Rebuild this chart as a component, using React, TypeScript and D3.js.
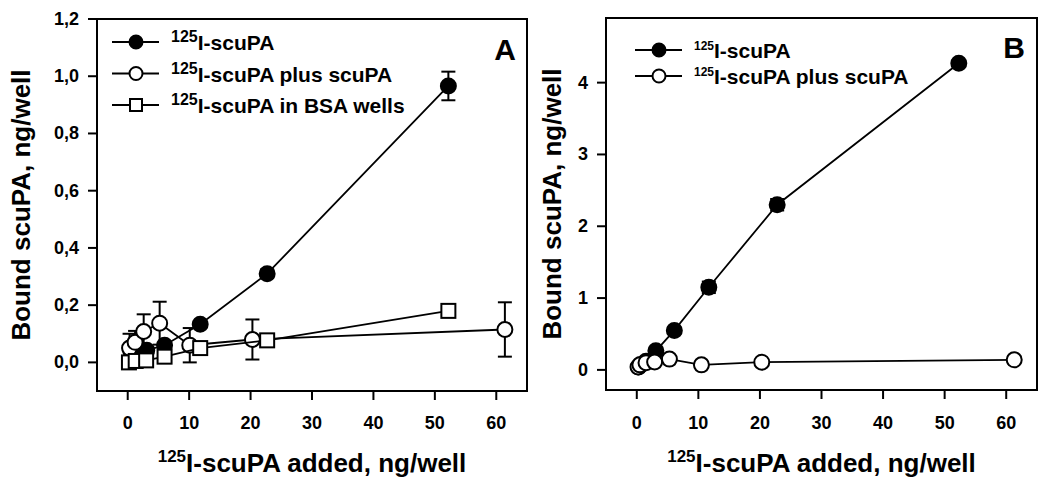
import React from "react";
import * as d3 from "d3";

// Panel A data: [x (ng/well added), y (bound ng/well), err]
const aFilled: [number, number, number][] = [
  [0.5, 0.04, 0], [1.5, 0.05, 0], [3.1, 0.042, 0], [6.0, 0.06, 0],
  [11.8, 0.133, 0.01], [22.7, 0.31, 0.015], [52.2, 0.966, 0.05],
];
const aOpen: [number, number, number][] = [
  [0.3, 0.05, 0.05], [1.2, 0.07, 0.04], [2.6, 0.108, 0.06], [5.2, 0.137, 0.075],
  [10.1, 0.06, 0.06], [20.3, 0.08, 0.07], [61.4, 0.115, 0.095],
];
const aSquare: [number, number, number][] = [
  [0.2, 0.0, 0], [1.3, 0.005, 0], [3.0, 0.007, 0], [6.0, 0.02, 0],
  [11.8, 0.05, 0], [22.7, 0.077, 0], [52.2, 0.18, 0.02],
];
// Panel B data
const bFilled: [number, number, number][] = [
  [0.3, 0.04, 0], [0.6, 0.07, 0], [1.5, 0.12, 0], [3.1, 0.265, 0.03],
  [6.1, 0.55, 0.04], [11.7, 1.15, 0.08], [22.8, 2.3, 0.08], [52.3, 4.27, 0.04],
];
const bOpen: [number, number, number][] = [
  [0.2, 0.04, 0], [0.5, 0.07, 0], [1.5, 0.1, 0], [2.9, 0.11, 0],
  [5.3, 0.15, 0], [10.5, 0.07, 0], [20.3, 0.107, 0], [61.3, 0.14, 0.05],
];

const xTicks = [0, 10, 20, 30, 40, 50, 60];
const aYTicks = [0, 0.2, 0.4, 0.6, 0.8, 1.0, 1.2];
const bYTicks = [0, 1, 2, 3, 4];
const aLegend = ["I-scuPA", "I-scuPA plus scuPA", "I-scuPA in BSA wells"];
const bLegend = ["I-scuPA", "I-scuPA plus scuPA"];

const FONT = "'Liberation Sans', Arial, Helvetica, sans-serif";

type Pt = [number, number, number];
type Kind = "filled" | "open" | "square";

function Marker({ kind, cx, cy, r }: { kind: Kind; cx: number; cy: number; r: number }) {
  if (kind === "square") {
    return <rect x={cx - r} y={cy - r} width={2 * r} height={2 * r} fill="#fff" stroke="#000" strokeWidth={2} />;
  }
  return <circle cx={cx} cy={cy} r={r} fill={kind === "filled" ? "#000" : "#fff"} stroke="#000" strokeWidth={2} />;
}

function Series({ data, kind, x, y }: { data: Pt[]; kind: Kind; x: any; y: any }) {
  const line = d3.line<Pt>().x((d) => x(d[0])).y((d) => y(d[1]));
  return (
    <g>
      <path d={line(data) || ""} fill="none" stroke="#000" strokeWidth={1.8} />
      {data.filter((d) => d[2] > 0).map((d, i) => (
        <g key={"e" + i} stroke="#000" strokeWidth={2}>
          <line x1={x(d[0])} x2={x(d[0])} y1={y(d[1] - d[2])} y2={y(d[1] + d[2])} />
          <line x1={x(d[0]) - 7} x2={x(d[0]) + 7} y1={y(d[1] - d[2])} y2={y(d[1] - d[2])} />
          <line x1={x(d[0]) - 7} x2={x(d[0]) + 7} y1={y(d[1] + d[2])} y2={y(d[1] + d[2])} />
        </g>
      ))}
      {data.map((d, i) => (
        <Marker key={i} kind={kind} cx={x(d[0])} cy={y(d[1])} r={kind === "square" ? 7 : 7.5} />
      ))}
    </g>
  );
}

function Panel({
  left, right, top, bottom, yDomain, yTicks, yFmt, series, legend, legendKinds,
  legendX, legendY, legendStep, supSize, label, labelX, labelY, yTitleX, tickLabelRight,
}: any) {
  const x = d3.scaleLinear().domain([-5, 65]).range([left, right]);
  const y = d3.scaleLinear().domain(yDomain).range([bottom, top]);
  const cx = (left + right) / 2;
  const cy = (top + bottom) / 2;
  return (
    <g fontFamily={FONT} fontWeight="bold">
      <rect x={left} y={top} width={right - left} height={bottom - top} fill="none" stroke="#000" strokeWidth={2} />
      {yTicks.map((t: number) => (
        <g key={"y" + t}>
          <line x1={left - 9} x2={left} y1={y(t)} y2={y(t)} stroke="#000" strokeWidth={2} />
          <text x={tickLabelRight} y={y(t) + 6} textAnchor="end" fontSize={18}>{yFmt(t)}</text>
        </g>
      ))}
      {xTicks.map((t) => (
        <g key={"x" + t}>
          <line x1={x(t)} x2={x(t)} y1={bottom} y2={bottom + 9} stroke="#000" strokeWidth={2} />
          <text x={x(t)} y={429} textAnchor="middle" fontSize={18}>{t}</text>
        </g>
      ))}
      <text x={cx} y={472} textAnchor="middle" fontSize={26}>
        <tspan fontSize={17} dy={-10}>125</tspan>
        <tspan dy={10}>I-scuPA added, ng/well</tspan>
      </text>
      <text transform={`translate(${yTitleX},${cy}) rotate(-90)`} textAnchor="middle" fontSize={26}>
        Bound scuPA, ng/well
      </text>
      {series.map((s: any, i: number) => (
        <Series key={i} data={s.data} kind={s.kind} x={x} y={y} />
      ))}
      {legend.map((t: string, i: number) => {
        const ly = legendY + i * legendStep;
        return (
          <g key={"l" + i}>
            <line x1={legendX} x2={legendX + 47} y1={ly} y2={ly} stroke="#000" strokeWidth={2} />
            <Marker kind={legendKinds[i]} cx={legendX + 24} cy={ly} r={legendKinds[i] === "square" ? 6 : 6.5} />
            <text x={legendX + 59} y={ly + 8} fontSize={21}>
              <tspan fontSize={supSize} dy={-8}>125</tspan>
              <tspan dy={8}>{t}</tspan>
            </text>
          </g>
        );
      })}
      <text x={labelX} y={labelY} fontSize={30} textAnchor="end">{label}</text>
    </g>
  );
}

export default function App() {
  const commaFmt = (t: number) => d3.format(".1f")(t).replace(".", ",");
  return (
    <svg width={1050} height={490} style={{ display: "block", position: "absolute", left: 0, top: 0 }}>
      <rect width={1050} height={490} fill="#fff" />
      <Panel
        left={97} right={527} top={19} bottom={391}
        yDomain={[-0.1, 1.2]} yTicks={aYTicks} yFmt={commaFmt}
        series={[
          { data: aFilled, kind: "filled" },
          { data: aOpen, kind: "open" },
          { data: aSquare, kind: "square" },
        ]}
        legend={aLegend} legendKinds={["filled", "open", "square"]}
        legendX={112} legendY={42} legendStep={31.5} supSize={16}
        label="A" labelX={516} labelY={60} yTitleX={30} tickLabelRight={79}
      />
      <Panel
        left={606} right={1037} top={18} bottom={390}
        yDomain={[-0.28, 4.9]} yTicks={bYTicks} yFmt={(t: number) => String(t)}
        series={[
          { data: bFilled, kind: "filled" },
          { data: bOpen, kind: "open" },
        ]}
        legend={bLegend} legendKinds={["filled", "open"]}
        legendX={635} legendY={50} legendStep={26} supSize={12}
        label="B" labelX={1025} labelY={58} yTitleX={561} tickLabelRight={588}
      />
    </svg>
  );
}
